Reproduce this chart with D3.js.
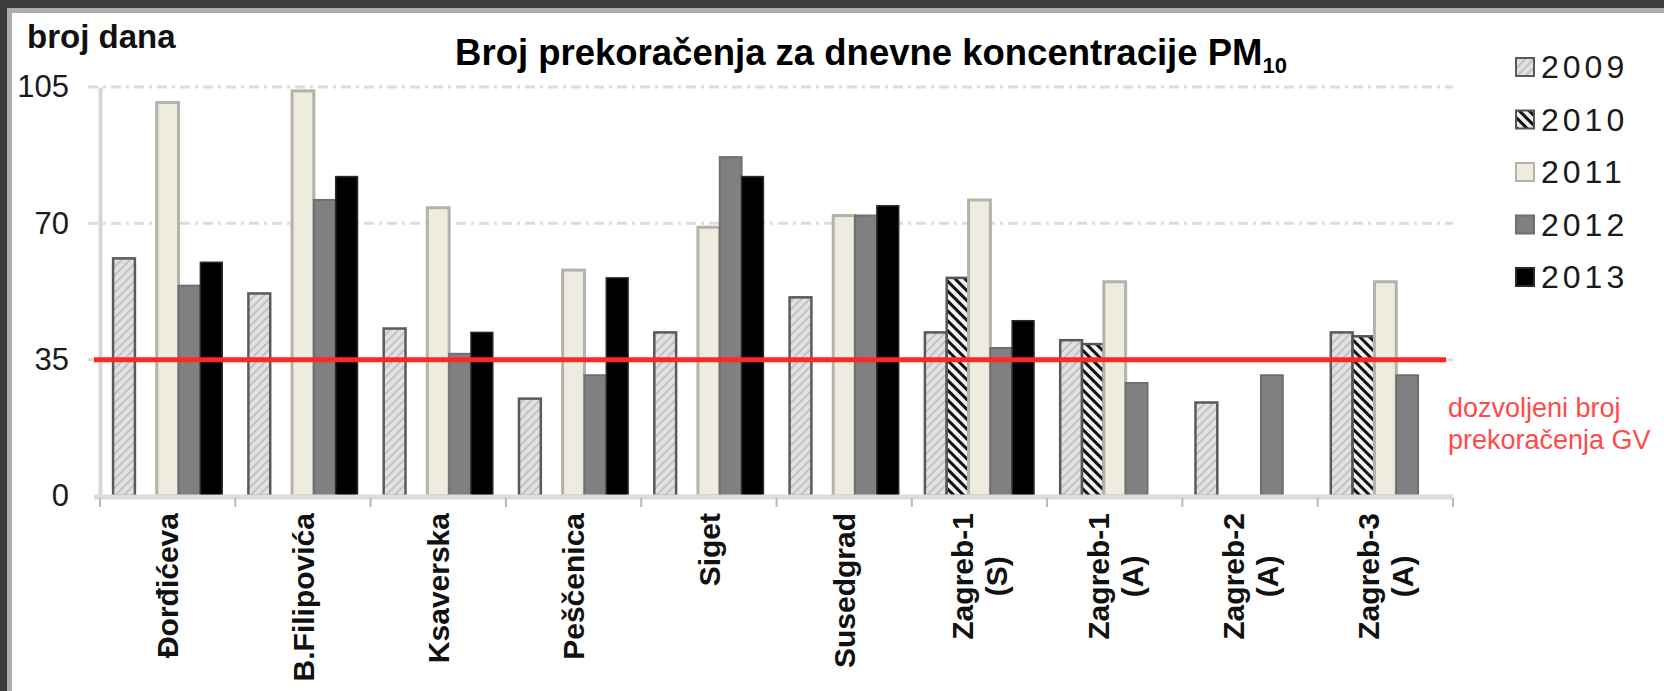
<!DOCTYPE html>
<html>
<head>
<meta charset="utf-8">
<script src="https://cdn.jsdelivr.net/npm/d3@7"></script>
<style>
  body { margin: 0; background: #fff; }
  text { font-family: "Liberation Sans", Arial, sans-serif; }
</style>
</head>
<body>
<div id="chart-area"></div>
<script>
// Data
const stations = ["Đorđićeva", "B.Filipovića", "Ksaverska", "Peščenica", "Siget", "Susedgrad",
  "Zagreb-1\n(S)", "Zagreb-1\n(A)", "Zagreb-2\n(A)", "Zagreb-3\n(A)"]
const years = ["2009", "2010", "2011", "2012", "2013"]
const v2009 = [61, 52, 43, 25, 42, 51, 42, 40, 24, 42]
const v2010 = [null, null, null, null, null, null, 56, 39, null, 41]
const v2011 = [101, 104, 74, 58, 69, 72, 76, 55, null, 55]
const v2012 = [54, 76, 36.5, 31, 87, 72, 38, 29, 31, 31]
const v2013 = [60, 82, 42, 56, 82, 74.5, 45, null, null, null]
const yTicks = [0, 35, 70, 105]
const limitValue = 35
const limitLabel = ["dozvoljeni broj", "prekoračenja GV"]

const seriesValues = [v2009, v2010, v2011, v2012, v2013]

// Canvas
const W = 1664, H = 691
const PLOT = { LEFT: 100, RIGHT: 1453, TOP: 87, BOTTOM: 496 }

const svg = d3.select("#chart-area").append("svg")
  .attr("width", W)
  .attr("height", H)

// Frame (dark band top and left)
svg.append("rect").attr("x", 0).attr("y", 0).attr("width", W).attr("height", H).attr("fill", "#fff")
svg.append("rect").attr("x", 0).attr("y", 0).attr("width", W).attr("height", 13).attr("fill", "#adadad")
svg.append("rect").attr("x", 0).attr("y", 0).attr("width", 12).attr("height", H).attr("fill", "#adadad")
svg.append("rect").attr("x", 0).attr("y", 0).attr("width", W).attr("height", 8).attr("fill", "#3c3c3c")
svg.append("rect").attr("x", 0).attr("y", 0).attr("width", 7).attr("height", H).attr("fill", "#3c3c3c")

// Patterns
const defs = svg.append("defs")
const p09 = defs.append("pattern")
  .attr("id", "hatch2009")
  .attr("patternUnits", "userSpaceOnUse")
  .attr("width", 6).attr("height", 6)
  .attr("patternTransform", "rotate(45)")
p09.append("rect").attr("width", 6).attr("height", 6).attr("fill", "#e1e1e1")
p09.append("rect").attr("width", 2).attr("height", 6).attr("fill", "#c2c2c2")

const p10 = defs.append("pattern")
  .attr("id", "hatch2010")
  .attr("patternUnits", "userSpaceOnUse")
  .attr("width", 7).attr("height", 7)
  .attr("patternTransform", "rotate(-45)")
p10.append("rect").attr("width", 7).attr("height", 7).attr("fill", "#f2f2f2")
p10.append("rect").attr("width", 3).attr("height", 7).attr("fill", "#111")

const fills = { "2009": "url(#hatch2009)", "2010": "url(#hatch2010)", "2011": "#eeebdf", "2012": "#808080", "2013": "#000" }
const strokes = { "2009": "#5a5a5a", "2010": "#555", "2011": "#b3b3ab", "2012": "#6f6f6f", "2013": "#2a2a2a" }
const strokeW = { "2009": 2.5, "2010": 2.5, "2011": 3, "2012": 2, "2013": 1.5 }

// Scales
const x0 = d3.scaleBand()
  .domain(stations)
  .range([PLOT.LEFT, PLOT.RIGHT])
  .paddingInner(0)
  .paddingOuter(0)

const x1 = d3.scaleBand()
  .domain(years)
  .range([0, x0.bandwidth()])
  .paddingInner(0)
  .paddingOuter(0.6)

const y = d3.scaleLinear()
  .domain([0, 105])
  .range([PLOT.BOTTOM, PLOT.TOP])

// Gridlines
svg.append("g")
  .selectAll("line")
  .data(yTicks.filter(d => d > 0))
  .enter().append("line")
  .attr("x1", PLOT.LEFT - 12)
  .attr("x2", PLOT.RIGHT)
  .attr("y1", d => y(d))
  .attr("y2", d => y(d))
  .attr("stroke", "#dcdcdc")
  .attr("stroke-width", 3)
  .attr("stroke-dasharray", "10,5,3,5")

// Y axis
const yAxisCall = d3.axisLeft(y)
  .tickValues(yTicks)
  .tickSize(0)
  .tickSizeOuter(0)
  .tickPadding(31)
const yAxis = svg.append("g")
  .attr("transform", `translate(${PLOT.LEFT}, 0)`)
  .call(yAxisCall)
yAxis.select(".domain").attr("stroke", "#d6d6d6").attr("stroke-width", 4)
yAxis.selectAll("text")
  .attr("font-size", "31px")
  .attr("font-family", "Liberation Sans, Arial, sans-serif")
  .attr("fill", "#1a1a1a")

// Bars
const groups = svg.append("g")
  .selectAll("g")
  .data(stations)
  .enter().append("g")
  .attr("transform", d => `translate(${x0(d)}, 0)`)

groups.selectAll("rect")
  .data((d, i) => years.map((yr, k) => ({ year: yr, value: seriesValues[k][i] })).filter(e => e.value !== null))
  .enter().append("rect")
  .attr("x", d => x1(d.year))
  .attr("width", x1.bandwidth())
  .attr("y", d => y(d.value))
  .attr("height", d => y(0) - y(d.value))
  .attr("fill", d => fills[d.year])
  .attr("stroke", d => strokes[d.year])
  .attr("stroke-width", d => strokeW[d.year])

// X axis baseline and boundary ticks
svg.append("line")
  .attr("x1", PLOT.LEFT - 6)
  .attr("x2", PLOT.RIGHT)
  .attr("y1", y(0) + 1)
  .attr("y2", y(0) + 1)
  .attr("stroke", "#dcdcdc")
  .attr("stroke-width", 5)

const boundaries = stations.map(d => x0(d)).concat([x0(stations[stations.length - 1]) + x0.bandwidth()])
svg.append("g")
  .selectAll("line")
  .data(boundaries)
  .enter().append("line")
  .attr("x1", d => d).attr("x2", d => d)
  .attr("y1", y(0) + 2).attr("y2", y(0) + 11)
  .attr("stroke", "#b8b8b8")
  .attr("stroke-width", 2)

// Category labels (rotated)
const lineGap = 34
stations.forEach(st => {
  const lines = st.split("\n")
  const cx = x0(st) + x0.bandwidth() / 2
  const lab = svg.append("g")
    .attr("transform", `translate(${cx}, 513) rotate(-90)`)
  const texts = lines.map((ln, i) => lab.append("text")
    .attr("y", (i - (lines.length - 1) / 2) * lineGap)
    .attr("dy", "0.36em")
    .attr("font-size", "30px")
    .attr("font-weight", "bold")
    .attr("fill", "#111")
    .attr("text-anchor", "middle")
    .text(ln))
  const maxLen = d3.max(texts, t => t.node().getComputedTextLength())
  texts.forEach(t => t.attr("x", -maxLen / 2))
})

// Limit line
svg.append("line")
  .attr("x1", PLOT.LEFT - 6)
  .attr("x2", 1446)
  .attr("y1", y(limitValue))
  .attr("y2", y(limitValue))
  .attr("stroke", "#ff2626")
  .attr("stroke-width", 5)

svg.append("g")
  .selectAll("text")
  .data(limitLabel)
  .enter().append("text")
  .attr("x", 1448)
  .attr("y", (d, i) => 417 + i * 32)
  .attr("font-size", "27px")
  .attr("fill", "#ff4a4a")
  .text(d => d)

// Axis title
svg.append("text")
  .attr("x", 27)
  .attr("y", 48)
  .attr("font-size", "33px")
  .attr("font-weight", "bold")
  .attr("fill", "#111")
  .text("broj dana")

// Chart title
const title = svg.append("text")
  .attr("x", 871)
  .attr("y", 65)
  .attr("text-anchor", "middle")
  .attr("font-size", "36.5px")
  .attr("font-weight", "bold")
  .attr("fill", "#000")
title.append("tspan").text("Broj prekoračenja za dnevne koncentracije PM")
title.append("tspan").attr("font-size", "22px").attr("dy", 8).text("10")

// Legend
const legend = svg.append("g")
  .attr("transform", "translate(1516, 67)")
years.forEach((yr, i) => {
  const row = legend.append("g")
    .attr("transform", `translate(0, ${i * 52.5})`)
  row.append("rect")
    .attr("x", 0).attr("y", -9)
    .attr("width", 18).attr("height", 18)
    .attr("fill", fills[yr])
    .attr("stroke", strokes[yr])
    .attr("stroke-width", 2)
  row.append("text")
    .attr("x", 25)
    .attr("y", 11)
    .attr("font-size", "32px")
    .attr("letter-spacing", "4px")
    .attr("fill", "#1a1a1a")
    .text(yr)
})
</script>
</body>
</html>
